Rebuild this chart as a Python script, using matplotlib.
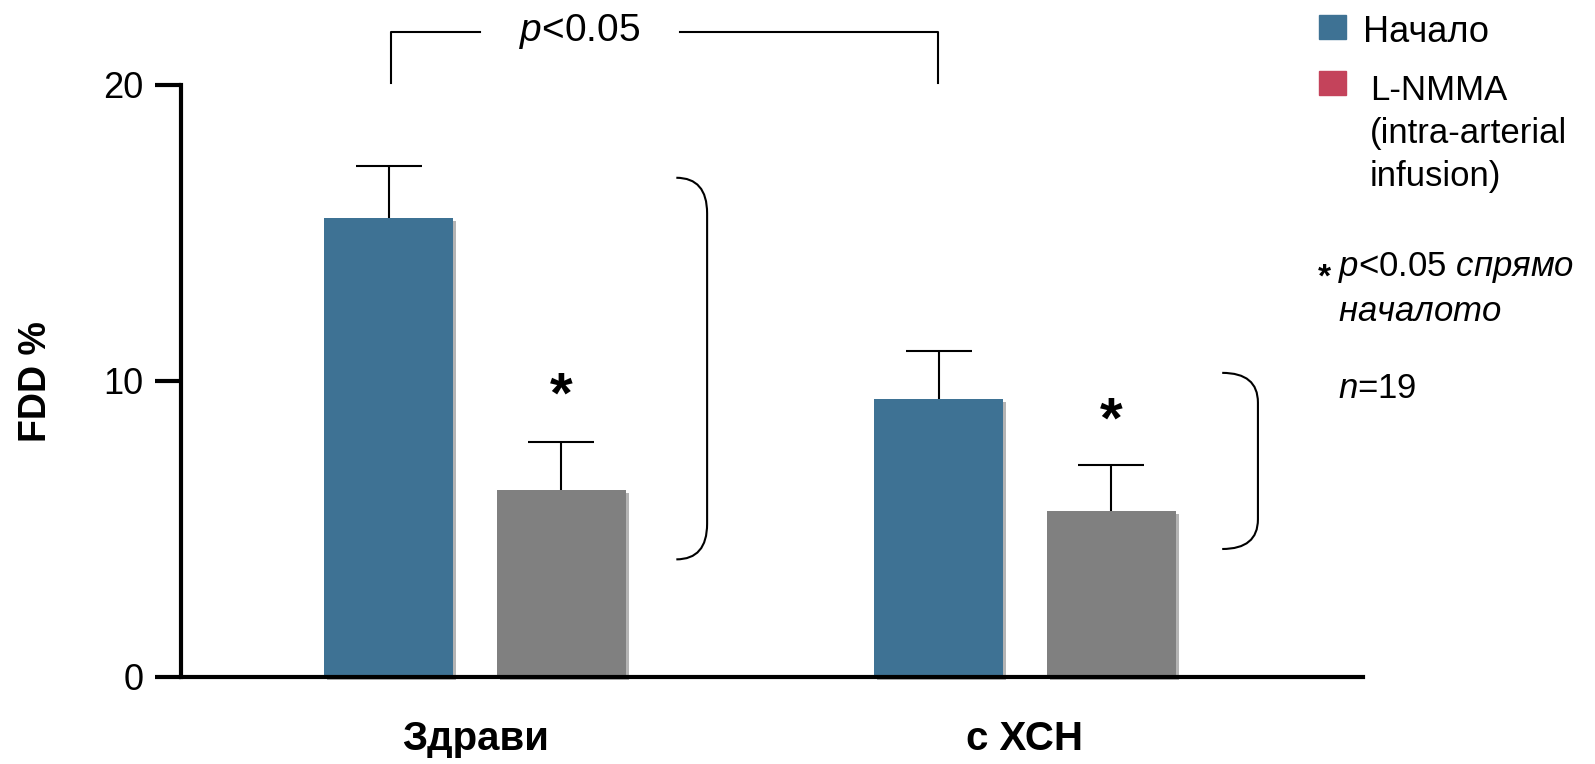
import matplotlib
matplotlib.use("Agg")
import matplotlib.pyplot as plt
import matplotlib.patheffects as pe
from matplotlib.path import Path
from matplotlib.patches import PathPatch, Rectangle
import numpy as np

plt.rcParams['font.family'] = ['Liberation Sans', 'DejaVu Sans']
plt.rcParams['mathtext.fontset'] = 'custom'
plt.rcParams['mathtext.rm'] = 'Liberation Sans'
plt.rcParams['mathtext.it'] = 'Liberation Sans:italic'
plt.rcParams['mathtext.bf'] = 'Liberation Sans:bold'

# data
groups = ['Здрави', 'с ХСН']
baseline = [15.5, 9.4]
baseline_err = [1.75, 1.6]
lnmma = [6.3, 5.6]
lnmma_err = [1.65, 1.55]
series_names = ['Начало', 'L-NMMA\n(intra-arterial\ninfusion)']
yticks = [0, 10, 20]

blue = '#3e7294'
gray = '#808080'
red = '#c4435b'

fig = plt.figure(figsize=(15.95, 7.64), dpi=100)
ax = fig.add_axes([0.1135, 0.114, 0.741, 0.775])

x = np.arange(len(groups))
w = 0.235
off = 0.157
cap = 0.06
shadow = [pe.SimplePatchShadow(offset=(2.2, -2.2), shadow_rgbFace='#b4b4b4', alpha=1), pe.Normal()]

b1 = ax.bar(x - off, baseline, w, color=blue, zorder=3, clip_on=False)
b2 = ax.bar(x + off, lnmma, w, color=gray, zorder=3, clip_on=False)
for b in list(b1) + list(b2):
    b.set_path_effects(shadow)

# upper error bars only
for xs, vals, errs in [(x - off, baseline, baseline_err), (x + off, lnmma, lnmma_err)]:
    tops = np.array(vals) + np.array(errs)
    ax.vlines(xs, vals, tops, color='black', lw=1.5, zorder=2)
    ax.hlines(tops, xs - cap, xs + cap, color='black', lw=1.5, zorder=2)

ax.set_xlim(-0.535, 1.615)
ax.set_ylim(0, 20)
ax.spines['top'].set_visible(False)
ax.spines['right'].set_visible(False)
ax.spines['left'].set_linewidth(3)
ax.spines['bottom'].set_linewidth(3)
ax.spines['bottom'].set_zorder(4)
ax.set_yticks(yticks)
ax.set_yticklabels([str(t) for t in yticks], fontsize=26)
ax.tick_params(axis='y', length=19, width=3, pad=8)
ax.set_xticks([])
fig.text(36 / 1595, 1 - 382 / 764, 'FDD %', fontsize=27, fontweight='bold',
         rotation=90, ha='center', va='center')

for xi, g in zip(x, groups):
    ax.text(xi, -2.1, g, fontsize=29, fontweight='bold', ha='center', va='center')

# asterisks above L-NMMA bars
for xi, yi in zip(x + off, [9.45, 8.6]):
    ax.text(xi, yi, '*', fontsize=42, fontweight='bold', ha='center', va='center')

# top comparison bracket
ax.plot([-0.153, -0.153, 0.009], [20.05, 21.8, 21.8], color='black', lw=1.5, clip_on=False)
ax.plot([0.373, 0.842, 0.842], [21.8, 21.8, 20.05], color='black', lw=1.5, clip_on=False)
ax.text(0.19, 21.8, r'$p$<0.05', fontsize=28, ha='center', va='center')


def side_bracket(x0, x1, yt, yb, r):
    verts = [(x0, yt), (x1, yt), (x1, yt - r), (x1, yb + r), (x1, yb), (x0, yb)]
    codes = [Path.MOVETO, Path.CURVE3, Path.CURVE3, Path.LINETO, Path.CURVE3, Path.CURVE3]
    ax.add_patch(PathPatch(Path(verts, codes), fill=False, lw=1.5, color='black', clip_on=False))


side_bracket(0.366, 0.422, 16.86, 3.97, 1.2)
side_bracket(1.359, 1.424, 10.27, 4.32, 1.0)

# legend and notes
fig.patches.append(Rectangle((1319 / 1595, 1 - 39 / 764), 27 / 1595, 24 / 764,
                             transform=fig.transFigure, color=blue))
fig.patches.append(Rectangle((1319 / 1595, 1 - 95 / 764), 27 / 1595, 24 / 764,
                             transform=fig.transFigure, color=red))
fig.text(1363 / 1595, 1 - 33 / 764, series_names[0], fontsize=26, va='center')
fig.text(1370 / 1595, 1 - 74 / 764, series_names[1], fontsize=25, va='top',
         linespacing=1.38)
fig.text(1318 / 1595, 1 - 278 / 764, '*', fontsize=24, fontweight='bold', va='center')
fig.text(1338 / 1595, 1 - 250 / 764,
         r'$p$<0.05 $\mathit{спрямо}$' + '\n' + r'$\mathit{началото}$',
         fontsize=25, va='top', linespacing=1.4)
fig.text(1338 / 1595, 1 - 389 / 764, r'$n$=19', fontsize=25, va='center')

fig.savefig('out.png', dpi=100)
